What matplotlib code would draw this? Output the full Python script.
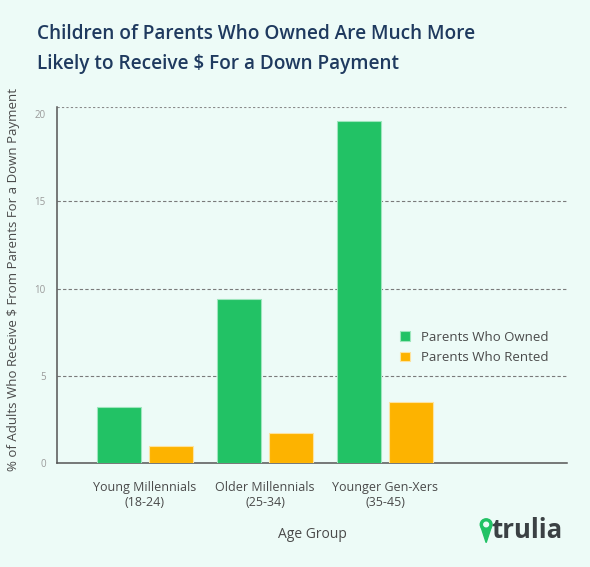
import matplotlib.pyplot as plt
import numpy as np
from matplotlib.patches import Circle, Polygon

# values
groups = ["Young Millennials\n(18-24)", "Older Millennials\n(25-34)", "Younger Gen-Xers\n(35-45)"]
owned = [3.2, 9.4, 19.6]
rented = [1.0, 1.7, 3.5]
yticks = [0, 5, 10, 15, 20]

bg = "#EDFBF7"
green = "#22C265"
orange = "#FDB300"

plt.rcParams['font.family'] = ['Open Sans', 'DejaVu Sans']

fig = plt.figure(figsize=(5.9, 5.67), dpi=100, facecolor=bg)
ax = fig.add_axes([0.0966, 0.1834, 0.8644, 0.6276], facecolor=bg)

x = np.arange(len(groups))
w = 0.37
ax.bar(x - 0.215, owned, w, color=green, edgecolor="#9EE6BD", linewidth=0.8, label="Parents Who Owned", zorder=3)
ax.bar(x + 0.215, rented, w, color=orange, edgecolor="#FDE3A0", linewidth=0.8, label="Parents Who Rented", zorder=3)

ax.set_xlim(-0.733, 3.517)
ax.set_ylim(0, 20.4)
ax.set_yticks(yticks)
ax.set_yticklabels([str(v) for v in yticks], fontsize=7, color="#9A9A9A")
ax.set_xticks(x)
ax.set_xticklabels(groups, fontsize=9, color="#4A4A4A", linespacing=1.2)
ax.tick_params(length=0, pad=13)
ax.tick_params(axis='y', pad=8)

for v in yticks[1:-1]:
    ax.axhline(v, color="#7A7A7A", linestyle=(0, (3, 2)), linewidth=0.8, zorder=1)
ax.axhline(20.4, color="#8A8A8A", linestyle=(0, (2, 2)), linewidth=0.8, zorder=1)

for s in ["top", "right"]:
    ax.spines[s].set_visible(False)
ax.spines["left"].set_color("#555555")
ax.spines["bottom"].set_color("#555555")
ax.spines["left"].set_linewidth(1.1)
ax.spines["bottom"].set_linewidth(1.1)

ax.set_xlabel("Age Group", fontsize=10, color="#4A4A4A", labelpad=13)
ax.set_ylabel("% of Adults Who Receive \\$ From Parents For a Down Payment",
              fontsize=9.5, color="#4A4A4A")
ax.yaxis.set_label_coords(-0.072, 0.515)

leg = ax.legend(loc="center left", bbox_to_anchor=(0.65, 0.325), frameon=False,
                fontsize=9.5, handlelength=0.7, handleheight=0.7, handletextpad=0.9,
                labelspacing=0.55)
for t in leg.get_texts():
    t.set_color("#4A4A4A")

fig.text(0.063, 0.958, "Children of Parents Who Owned Are Much More\nLikely to Receive \\$ For a Down Payment",
         fontsize=13.7, fontweight="semibold", color="#1F3A5F", va="top", ha="left", linespacing=1.7)

# trulia logo
lax = fig.add_axes([0.80, 0.035, 0.18, 0.06], facecolor="none")
lax.set_xlim(0, 18)
lax.set_ylim(0, 6)
lax.axis("off")
lax.add_patch(Circle((2.4, 4.0), 1.0, color=green))
lax.add_patch(Polygon([[1.55, 3.5], [3.25, 3.5], [2.4, 0.8]], color=green))
lax.add_patch(Circle((2.4, 4.0), 0.4, color=bg))
lax.text(3.3, 3.0, "trulia", fontsize=18.5, fontweight="bold", color="#3B4144", va="center", ha="left")

fig.savefig("out.png", dpi=100, facecolor=bg)
